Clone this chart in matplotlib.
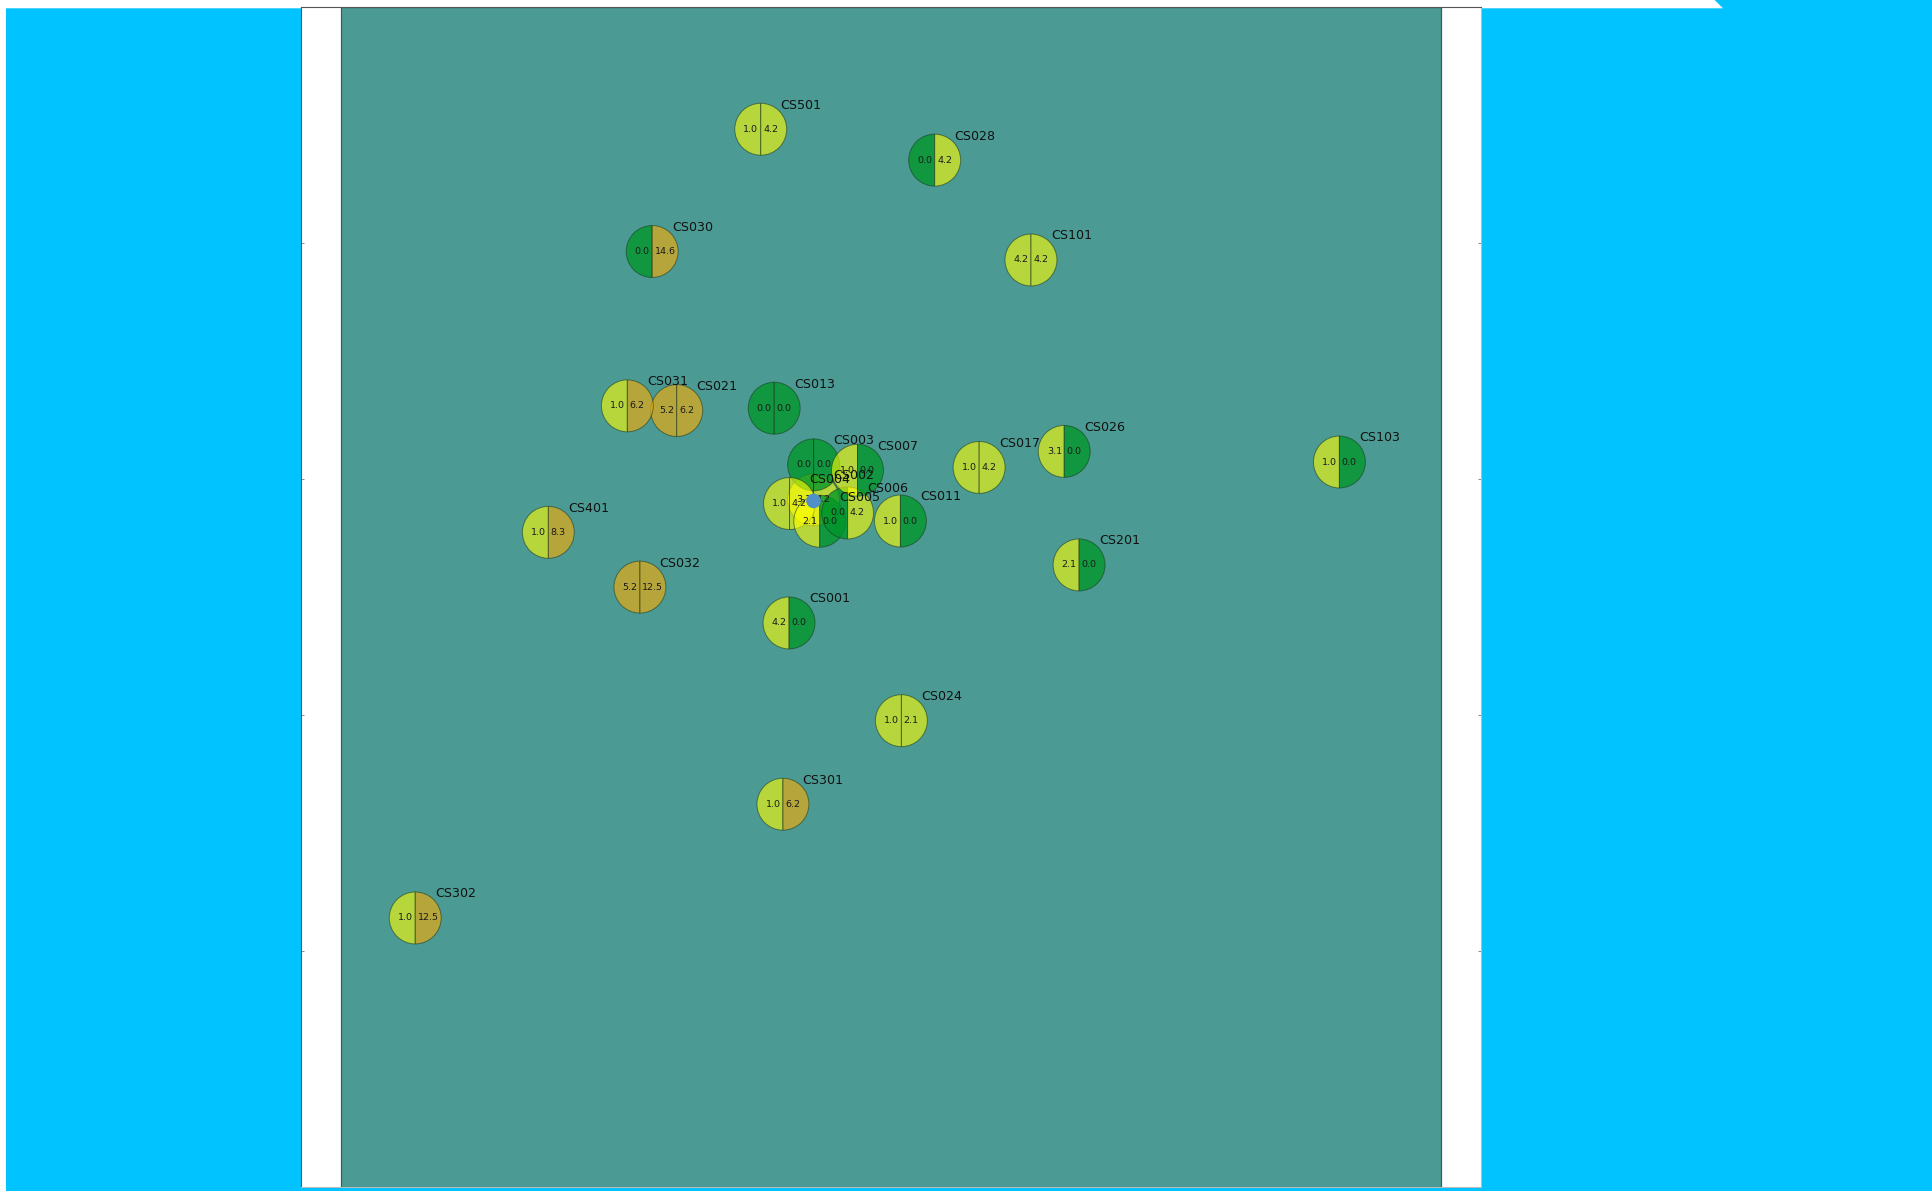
import matplotlib
matplotlib.use('Agg')
import matplotlib.pyplot as plt
from matplotlib.patches import Wedge, Circle, Rectangle, Polygon

stations = ['CS001', 'CS002', 'CS003', 'CS004', 'CS005', 'CS006', 'CS007', 'CS011', 'CS013', 'CS017',
            'CS021', 'CS024', 'CS026', 'CS028', 'CS030', 'CS031', 'CS032', 'CS101', 'CS103', 'CS201',
            'CS301', 'CS302', 'CS401', 'CS501']
xpos = [-216, -164, -164, -215, -151, -92, -71, 20, -247.5, 186.7,
        -454, 22, 367, 92.5, -506, -558.6, -532, 296.5, 950, 398.5,
        -229, -1008, -726, -276]
ypos = [-55, 206, 280, 198, 160.5, 178, 268.6, 161, 400, 274.5,
        395, -262, 308.5, 925.6, 732, 405, 21, 714, 286, 68,
        -439, -680, 137, 991]
left_vals = [4.2, 3.1, 0.0, 1.0, 2.1, 0.0, 1.0, 1.0, 0.0, 1.0,
             5.2, 1.0, 3.1, 0.0, 0.0, 1.0, 5.2, 4.2, 1.0, 2.1,
             1.0, 1.0, 1.0, 1.0]
right_vals = [0.0, 4.2, 0.0, 4.2, 0.0, 4.2, 0.0, 0.0, 0.0, 4.2,
              6.2, 2.1, 0.0, 4.2, 14.6, 6.2, 12.5, 4.2, 0.0, 0.0,
              6.2, 12.5, 8.3, 4.2]
centre_x = -164
centre_y = 203.5
yticks = [-750, -250, 250, 750]

W, H = 1933, 1191
radius = 55


def value_color(v):
    if v == 0:
        return (0.0, 0.59, 0.16, 0.78)
    if v < 5:
        return (1.0, 1.0, 0.0, 0.6)
    return (1.0, 0.68, 0.0, 0.6)


fig = plt.figure(figsize=(W / 100, H / 100), dpi=100, facecolor='white')
# blue panel behind the axes, with the clipped corner at the top
corners = [(6, 8.3), (1723, 8.3), (1714.6, 0), (W, 0), (W, H), (6, H)]
fig.patches.append(Polygon([(a / W, 1 - b / H) for a, b in corners], closed=True,
                           transform=fig.transFigure, facecolor='#00c3ff', edgecolor='none', zorder=-1))

ax = fig.add_axes([301 / W, (H - 1187) / H, 1180 / W, 1180 / H])
ax.set_xlim(-1250, 1250)
ax.set_ylim(-1250, 1250)
ax.add_patch(Rectangle((-1166, -1250), 2332, 2500, facecolor='#4b9b94', edgecolor='#35605c', lw=0.9, zorder=1))

for i in range(len(stations)):
    x, y = xpos[i], ypos[i]
    ax.add_patch(Wedge((x, y), radius, 90, 270, facecolor=value_color(left_vals[i]),
                       edgecolor=(0.1, 0.2, 0.1, 0.55), lw=0.7, zorder=2))
    ax.add_patch(Wedge((x, y), radius, 270, 90, facecolor=value_color(right_vals[i]),
                       edgecolor=(0.1, 0.2, 0.1, 0.55), lw=0.7, zorder=2))
    ax.text(x - 5, y, '%.1f' % left_vals[i], fontsize=6.8, ha='right', va='center', zorder=3, color='#1a1a1a')
    ax.text(x + 5, y, '%.1f' % right_vals[i], fontsize=6.8, ha='left', va='center', zorder=3, color='#1a1a1a')
    ax.text(x + 42, y + 51, stations[i], fontsize=9.1, ha='left', va='center', zorder=3, color='#111111')

ax.add_patch(Circle((centre_x, centre_y), 15.5, facecolor='#5090c8', edgecolor='none', zorder=4))

ax.set_xticks([])
ax.set_yticks(yticks)
ax.set_yticklabels([])
ax.tick_params(axis='y', direction='in', left=True, right=True, length=2.5, width=0.6, color='#777777')
for s in ax.spines.values():
    s.set_color('#555555')
    s.set_linewidth(0.8)
ax.spines['right'].set_color('#bbbbbb')
ax.spines['bottom'].set_color('#bbbbbb')

fig.savefig('out.png', dpi=100, facecolor='white')
